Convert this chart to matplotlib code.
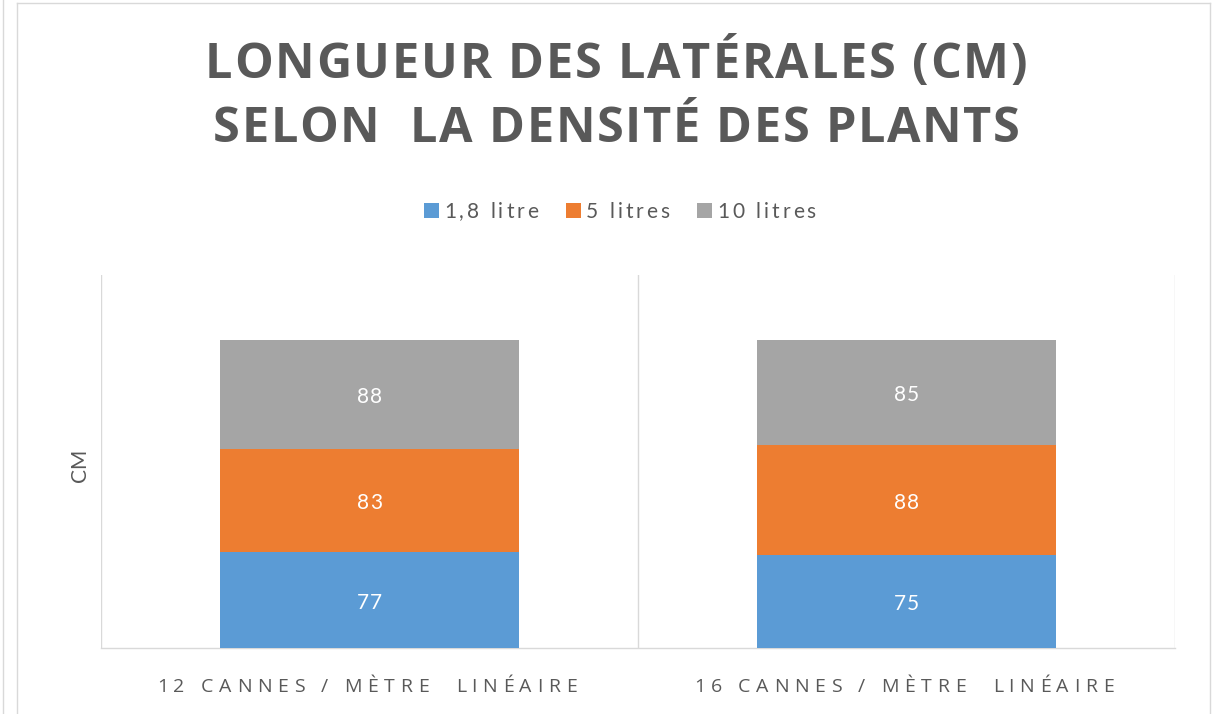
import matplotlib
matplotlib.use("Agg")
import matplotlib.pyplot as plt
from matplotlib.patches import Rectangle
from matplotlib.lines import Line2D
from matplotlib.transforms import IdentityTransform
from matplotlib.font_manager import FontProperties, findfont, get_font

categories = ["12 CANNES / MÈTRE  LINÉAIRE", "16 CANNES / MÈTRE  LINÉAIRE"]
series_names = ["1,8 litre", "5 litres", "10 litres"]
vals_18 = [77, 75]
vals_5 = [83, 88]
vals_10 = [88, 85]
colors = ["#5B9BD5", "#ED7D31", "#A5A5A5"]
title_lines = ["LONGUEUR DES LATÉRALES (CM)", "SELON  LA DENSITÉ DES PLANTS"]
ylabel = "CM"

TXT = "#595959"
GRID = "#d9d9d9"
W, H = 1220, 714
DPI = 100

fig = plt.figure(figsize=(W / DPI, H / DPI), dpi=DPI)
ax = fig.add_axes([101 / W, (H - 648) / H, (1175 - 101) / W, (648 - 275) / H])


def metrics(s, family, size, weight="normal"):
    prop = FontProperties(family=family, weight=weight)
    font = get_font(findfont(prop))
    font.set_size(size, DPI)
    adv = [font.load_char(ord(c)).linearHoriAdvance / 65536 for c in s]
    g = font.load_char(ord("H"))
    cap = g.height / 64
    return adv, cap


def tracked(cx, cy, s, size, color, family, weight="normal", width=None,
            tracking=0.0, trailing=True, zorder=5):
    """Draw horizontal text centred at display point (cx, cy) with letter spacing."""
    adv, cap = metrics(s, family, size, weight)
    n = len(s)
    if width is not None and n > 1:
        tracking = (width - sum(adv)) / (n - 1)
    total = sum(adv) + tracking * (n - 1) + (tracking if trailing else 0)
    cum = 0.0
    for c, a in zip(s, adv):
        p = cum + a / 2 - total / 2
        if c.strip():
            fig.text(cx + p, cy - cap / 2, c, transform=IdentityTransform(),
                     fontsize=size, color=color, family=family, fontweight=weight,
                     ha="center", va="baseline", zorder=zorder)
        cum += a + tracking
    return tracking


x = list(range(len(categories)))
ax.set_xlim(-0.5, len(categories) - 0.5)
ax.set_ylim(0, 300)

bottom = [0] * len(categories)
series = [vals_18, vals_5, vals_10]
labels_pos = []
for name, vals, c in zip(series_names, series, colors):
    ax.bar(x, vals, width=0.557, bottom=bottom, color=c, label=name, zorder=3)
    for xi, v, b in zip(x, vals, bottom):
        labels_pos.append((xi, b + v / 2, str(v)))
    bottom = [b + v for b, v in zip(bottom, vals)]

for s in ["top", "right", "left"]:
    ax.spines[s].set_visible(False)
ax.spines["bottom"].set_color(GRID)
ax.spines["bottom"].set_linewidth(1.0)
for xv in [i - 0.5 for i in range(len(categories) + 1)]:
    ax.axvline(xv, color=GRID, lw=1.0, zorder=1)
ax.set_yticks([])
ax.set_xticks(x)
ax.set_xticklabels([""] * len(categories))
ax.tick_params(axis="x", length=0)

# value labels
for xi, yc, s in labels_pos:
    dx, dy = ax.transData.transform((xi, yc))
    tracked(dx, dy - 1, s, 15, "white", ["Lato", "DejaVu Sans"], tracking=0.5,
            trailing=False)

# category labels
for xi, lab in zip(x, categories):
    dx, _ = ax.transData.transform((xi, 0))
    tracked(dx, H - 685, lab, 14, TXT, ["Open Sans", "DejaVu Sans"], width=420)

# y label (rotated, reads bottom to top)
fig.text(80 / W, 1 - 465.5 / H, ylabel, rotation=90, ha="center", va="center",
         fontsize=15, color=TXT, family=["Lato", "DejaVu Sans"])

# title
tracked(616, H - 60.5, title_lines[0], 35, TXT, ["Open Sans", "DejaVu Sans"],
        weight="bold", width=822, trailing=False)
tracked(616.5, H - 125, title_lines[1], 35, TXT, ["Open Sans", "DejaVu Sans"],
        weight="bold", width=807, trailing=False)

# legend (manual)
LFAM = ["Lato", "DejaVu Sans"]
LSIZE = 15
adv0, _ = metrics(series_names[0], LFAM, LSIZE)
lt = (94 - sum(adv0)) / (len(series_names[0]) - 1)
sq, gap, colgap = 15, 5, 28
widths = []
for nm in series_names:
    a, _ = metrics(nm, LFAM, LSIZE)
    widths.append(sum(a) + lt * (len(nm) - 1))
total = sum(sq + gap + w for w in widths) + colgap * (len(widths) - 1)
xpos = 620 - total / 2
for nm, c, w in zip(series_names, colors, widths):
    fig.add_artist(Rectangle((xpos / W, (H - 218) / H), sq / W, sq / H,
                             facecolor=c, edgecolor="none", transform=fig.transFigure))
    tx = xpos + sq + gap
    tracked(tx + w / 2, H - 210.5, nm, LSIZE, TXT, LFAM, tracking=lt, trailing=False)
    xpos = tx + w + colgap

# chart frame lines
def fline(xs, ys):
    fig.add_artist(Line2D([v / W for v in xs], [1 - v / H for v in ys], color=GRID,
                          lw=1, transform=fig.transFigure))

fline([3, 3], [0, H])
fline([17, 17], [3, H])
fline([17, 1210], [3, 3])
fline([1210, 1210], [3, H])

fig.savefig("out.png", dpi=DPI, facecolor="white")
